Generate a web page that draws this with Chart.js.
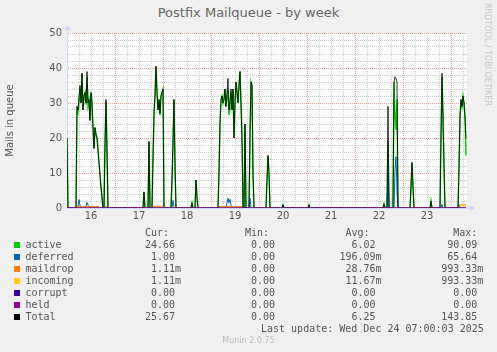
<!DOCTYPE html>
<html>
<head>
<meta charset="utf-8">
<script src="https://cdn.jsdelivr.net/npm/chart.js@4/dist/chart.umd.min.js"></script>
<style>
  body { margin: 0; background: #f0f0f0; width: 497px; height: 352px; position: relative; overflow: hidden; }
  #wrap { position: absolute; left: 0; top: 0; width: 497px; height: 230px; }
  .t { position: absolute; white-space: pre; font: 10px 'DejaVu Sans Mono', monospace; line-height: 12px; color: #555; }
  .sq { position: absolute; width: 6px; height: 6px; }
  #title { position: absolute; left: 0; top: 5px; width: 497px; text-align: center; font: 13px 'DejaVu Sans', sans-serif; color: #666; }
  #ver { position: absolute; left: 0; top: 336px; width: 497px; text-align: center; font: 8px 'DejaVu Sans', sans-serif; color: #bbb; }
  #rrd { position: absolute; left: 483px; top: 3px; writing-mode: vertical-rl; font: 8px 'DejaVu Sans', sans-serif; color: #c8c8c8; }
</style>
</head>
<body>
<div id="title">Postfix Mailqueue - by week</div>
<div id="rrd">RRDTOOL / TOBI OETIKER</div>
<div id="wrap"><canvas id="chart" width="497" height="230"></canvas></div>
<div id="legend"></div>
<div id="ver">Munin 2.0.75</div>
<script>
// x values are hours since Dec 16 00:00, one sample every 30 minutes
const dayLabels = ['16', '17', '18', '19', '20', '21', '22', '23'];

const totalData = [
  [0, 20], [0.5, 0], [4.5, 0], [5, 29], [5.5, 28], [6, 32], [6.5, 35], [7, 30], [7.5, 38.5], [8, 28], [8.5, 32], [9, 33],
  [9.5, 30], [10, 39], [10.5, 30], [11, 31], [11.5, 25], [12, 33], [12.5, 30], [13, 23], [13.5, 17], [14, 23], [14.5, 21],
  [15, 20], [16, 13], [17, 6], [18, 0], [18.5, 0], [19, 18], [19.5, 31], [20, 16], [20.5, 0],
  [38, 0], [38.5, 4.6], [39, 0], [40.5, 0], [41, 19], [41.5, 0], [42.5, 0], [43, 14], [43.5, 27], [44, 32], [44.5, 40.5],
  [45, 33], [45.5, 28], [46, 31], [46.5, 27], [47, 32], [47.5, 33], [48, 34], [48.5, 0],
  [52, 0], [52.5, 8], [53, 20], [53.5, 31], [54, 12], [54.5, 0], [62, 0], [62.5, 1.5], [63, 0], [64, 0], [64.5, 8], [65, 3], [65.5, 0],
  [75.5, 0], [76, 10], [76.5, 24], [77, 31], [77.5, 32], [78, 30], [78.5, 31], [79, 34], [79.5, 29], [80, 33], [80.5, 37],
  [81, 28], [81.5, 31], [82, 34], [82.5, 28], [83, 34], [83.5, 20], [84, 30], [84.5, 36], [85, 33], [85.5, 30], [86, 35],
  [86.5, 39], [87, 30], [87.5, 20], [88, 0], [88.5, 0], [89, 24], [89.5, 0], [91, 0], [91.5, 22], [92, 36], [92.5, 35], [93, 10], [93.5, 0],
  [99.5, 0], [100, 8], [100.5, 15], [101, 10], [101.5, 0], [107.5, 0], [108, 0.9], [108.5, 0], [120.5, 0], [121, 0.9], [121.5, 0],
  [158, 0], [158.5, 1.2], [159, 0], [160, 0], [160.5, 29], [161, 0], [163, 0], [163.5, 36], [164, 37.5], [164.5, 37], [165, 36], [165.5, 0],
  [171.5, 0], [172, 6], [172.5, 13], [173, 6], [173.5, 0],
  [181.5, 0], [182, 2], [182.5, 0], [186.5, 0], [187, 20], [187.5, 38.5], [188, 26], [188.5, 12], [189, 0],
  [195.5, 0], [196, 12], [196.5, 26], [197, 31], [197.5, 29], [198, 32], [198.5, 30], [199, 26], [199.5, 20]
];

const activeData = [
  [0, 20], [0.5, 0], [4.5, 0], [5, 29], [5.5, 27.5], [6, 29.6], [6.5, 34.2], [7, 30], [7.5, 38.5], [8, 28], [8.5, 32], [9, 33],
  [9.5, 29.5], [10, 37.4], [10.5, 29.1], [11, 30.7], [11.5, 25], [12, 33], [12.5, 30], [13, 23], [13.5, 17], [14, 23], [14.5, 21],
  [15, 20], [16, 13], [17, 6], [18, 0], [18.5, 0], [19, 18], [19.5, 30.5], [20, 16], [20.5, 0],
  [38, 0], [38.5, 4.6], [39, 0], [40.5, 0], [41, 19], [41.5, 0], [42.5, 0], [43, 14], [43.5, 27], [44, 32], [44.5, 40.5],
  [45, 33], [45.5, 28], [46, 31], [46.5, 26.5], [47, 32], [47.5, 33], [48, 34], [48.5, 0],
  [52, 0], [52.5, 8], [53, 17.8], [53.5, 31], [54, 12], [54.5, 0], [62, 0], [62.5, 1.5], [63, 0], [64, 0], [64.5, 8], [65, 3], [65.5, 0],
  [75.5, 0], [76, 10], [76.5, 24], [77, 31], [77.5, 32], [78, 30], [78.5, 31], [79, 34], [79.5, 29], [80, 31.5], [80.5, 34.2],
  [81, 26.5], [81.5, 28.5], [82, 33.2], [82.5, 28], [83, 34], [83.5, 20], [84, 30], [84.5, 36], [85, 33], [85.5, 30], [86, 35],
  [86.5, 39], [87, 30], [87.5, 20], [88, 0], [88.5, 0], [89, 24], [89.5, 0], [91, 0], [91.5, 19.2], [92, 36], [92.5, 35], [93, 10], [93.5, 0],
  [99.5, 0], [100, 8], [100.5, 15], [101, 10], [101.5, 0], [107.5, 0], [108, 0.9], [108.5, 0], [120.5, 0], [121, 0.9], [121.5, 0],
  [158, 0], [158.5, 1.2], [159, 0], [160, 0], [160.5, 19], [161, 0], [163, 0], [163.5, 36], [164, 26.5], [164.5, 22.3], [165, 31], [165.5, 0],
  [171.5, 0], [172, 6], [172.5, 13], [173, 6], [173.5, 0],
  [181.5, 0], [182, 2], [182.5, 0], [186.5, 0], [187, 20], [187.5, 37.5], [188, 26], [188.5, 12], [189, 0],
  [195.5, 0], [196, 11], [196.5, 26], [197, 31], [197.5, 29], [198, 32], [198.5, 30], [199, 26], [199.5, 15]
];

const deferredData = [
  [0, 0], [5, 0], [5.5, 0.5], [6, 2.4], [6.5, 0.8], [7, 0], [9, 0], [9.5, 0.5], [10, 1.6], [10.5, 0.9], [11, 0.3], [11.5, 0],
  [19, 0], [19.5, 0.5], [20, 0], [52.5, 0], [53, 2.2], [53.5, 0], [79.5, 0], [80, 1.5], [80.5, 2.8], [81, 1.5], [81.5, 2.5],
  [82, 0.8], [82.5, 0], [91, 0], [91.5, 2.8], [92, 0], [160, 0], [160.5, 10], [161, 0], [163.5, 0], [164, 11], [164.5, 14.7],
  [165, 5], [165.5, 0], [187, 0], [187.5, 1], [188, 0], [195.5, 0], [196, 1], [196.5, 0], [199.5, 0]
];

const maildropData = [
  [0, 0], [4.5, 0], [5, 0.4], [16, 0.4], [16.5, 0], [42.5, 0], [43, 0.5], [48, 0.5], [48.5, 0],
  [75.5, 0], [76, 0.4], [87.5, 0.4], [88, 0], [196, 0], [196.5, 0.9], [199.5, 0.9]
];

const incomingData = [
  [0, 0], [19, 0], [19.5, 0.5], [20, 0], [52.5, 0], [53, 0.4], [53.5, 0], [196.5, 0], [197, 0.9], [199.5, 0.5]
];

const corruptData = [[0, 0], [199.5, 0]];
const heldData = [[0, 0], [199.5, 0]];

const seriesNames = ['active', 'deferred', 'maildrop', 'incoming', 'corrupt', 'held', 'Total'];
const seriesColors = ['#00cc00', '#0066b3', '#ff8000', '#ffcc00', '#330099', '#990099', '#000000'];
const curText = ['24.66', ' 1.00', ' 1.11m', ' 1.11m', ' 0.00', ' 0.00', '25.67'];
const minText = [' 0.00', ' 0.00', ' 0.00', ' 0.00', ' 0.00', ' 0.00', ' 0.00'];
const avgText = ['  6.02', '196.09m', ' 28.76m', ' 11.67m', '  0.00', '  0.00', '  6.25'];
const maxText = [' 90.09', ' 65.64', '993.33m', '993.33m', '  0.00', '  0.00', '143.85'];
const lastUpdate = 'Last update: Wed Dec 24 07:00:03 2025';

const gridHours = [];
for (let h = 0; h < 200; h += 6) gridHours.push(h);

const axisColor = '#cfd6f8';
const minorGrid = 'rgba(150,150,150,0.5)';
const majorGrid = 'rgba(235,90,90,0.6)';
const fontColor = '#555';

// legend below the plot
const legend = document.getElementById('legend');
const addText = (txt, left, top) => {
  const el = document.createElement('div');
  el.className = 't';
  el.textContent = txt;
  el.style.left = left + 'px';
  el.style.top = top + 'px';
  legend.appendChild(el);
};
addText('Cur:', 145, 227);
addText('Min:', 245, 227);
addText(' Avg:', 339.4, 227);
addText('  Max:', 441.2, 227);
seriesNames.forEach((name, i) => {
  const top = 238.6 + i * 12;
  const sq = document.createElement('div');
  sq.className = 'sq';
  sq.style.left = '14px';
  sq.style.top = (top + 3.5) + 'px';
  sq.style.background = seriesColors[i];
  legend.appendChild(sq);
  addText(name, 25.4, top);
  addText(curText[i], 145, top);
  addText(minText[i], 245, top);
  addText(avgText[i], 339.4, top);
  addText(maxText[i], 441.2, top);
});
addText(lastUpdate, 261, 322.6);

const toPoints = arr => arr.map(p => ({ x: p[0], y: p[1] }));

const lineSet = (label, data, color, order, width) => ({
  label: label,
  data: toPoints(data),
  borderColor: color,
  backgroundColor: color,
  borderWidth: width,
  pointRadius: 0,
  tension: 0,
  fill: false,
  order: order
});

const isMajor = (axis, value) => {
  const v = Math.round(value);
  return axis === 'x' ? v % 24 === 0 : v % 10 === 0;
};

const arrows = {
  id: 'arrows',
  afterDraw(chart) {
    const { ctx, chartArea } = chart;
    const x0 = Math.round(chartArea.left) + 0.5;
    const y0 = Math.round(chartArea.bottom);
    ctx.save();
    ctx.strokeStyle = axisColor;
    ctx.fillStyle = axisColor;
    ctx.lineWidth = 1;
    ctx.beginPath();
    ctx.moveTo(x0, chartArea.top);
    ctx.lineTo(x0, chartArea.top - 4);
    ctx.moveTo(chartArea.right, y0);
    ctx.lineTo(chartArea.right + 4, y0);
    ctx.stroke();
    ctx.beginPath();
    ctx.moveTo(x0 - 3, chartArea.top - 3);
    ctx.lineTo(x0 + 3, chartArea.top - 3);
    ctx.lineTo(x0, chartArea.top - 8);
    ctx.closePath();
    ctx.fill();
    ctx.beginPath();
    ctx.moveTo(chartArea.right + 3, y0 - 3);
    ctx.lineTo(chartArea.right + 3, y0 + 3);
    ctx.lineTo(chartArea.right + 8, y0);
    ctx.closePath();
    ctx.fill();
    ctx.restore();
  }
};

const plotBg = {
  id: 'plotBg',
  beforeDraw(chart) {
    const { ctx, chartArea } = chart;
    ctx.save();
    ctx.fillStyle = '#ffffff';
    ctx.fillRect(chartArea.left, chartArea.top, chartArea.right - chartArea.left, chartArea.bottom - chartArea.top);
    ctx.restore();
  }
};

new Chart(document.getElementById('chart'), {
  type: 'line',
  data: {
    datasets: [
      lineSet('held', heldData, seriesColors[5], 0, 1),
      lineSet('corrupt', corruptData, seriesColors[4], 1, 1),
      lineSet('Total', totalData, 'rgba(0,0,0,0.8)', 2, 1),
      lineSet('incoming', incomingData, seriesColors[3], 3, 1),
      lineSet('maildrop', maildropData, seriesColors[2], 4, 1),
      lineSet('deferred', deferredData, seriesColors[1], 5, 1),
      lineSet('active', activeData, seriesColors[0], 6, 1.4)
    ]
  },
  options: {
    responsive: false,
    animation: false,
    layout: { padding: { left: 0, right: 30, top: 33, bottom: 0 } },
    plugins: { legend: { display: false }, tooltip: { enabled: false } },
    scales: {
      x: {
        type: 'linear',
        min: 0,
        max: 200,
        afterBuildTicks: scale => { scale.ticks = gridHours.map(v => ({ value: v })); },
        afterFit: scale => { scale.height = 22; },
        ticks: {
          autoSkip: false,
          maxRotation: 0,
          padding: 2,
          color: fontColor,
          font: { family: 'DejaVu Sans', size: 10 },
          callback: v => (v % 24 === 12 ? dayLabels[(v - 12) / 24] : '')
        },
        grid: {
          drawTicks: false,
          color: c => (c.tick && isMajor('x', c.tick.value) ? majorGrid : minorGrid)
        },
        border: { display: true, color: axisColor, dash: [1, 1] }
      },
      y: {
        min: 0,
        max: 50,
        afterFit: scale => { scale.width = 67; },
        ticks: {
          autoSkip: false,
          stepSize: 2,
          padding: 5,
          color: fontColor,
          font: { family: 'DejaVu Sans', size: 10 },
          callback: v => (isMajor('y', v) ? String(Math.round(v)) : '')
        },
        grid: {
          drawTicks: false,
          color: c => (c.tick && isMajor('y', c.tick.value) ? majorGrid : minorGrid)
        },
        border: { display: true, color: axisColor, dash: [1, 1] },
        title: {
          display: true,
          text: 'Mails in queue',
          color: fontColor,
          font: { family: 'DejaVu Sans', size: 10 },
          padding: { top: 4, bottom: 0 }
        }
      }
    }
  },
  plugins: [plotBg, arrows]
});
</script>
</body>
</html>
